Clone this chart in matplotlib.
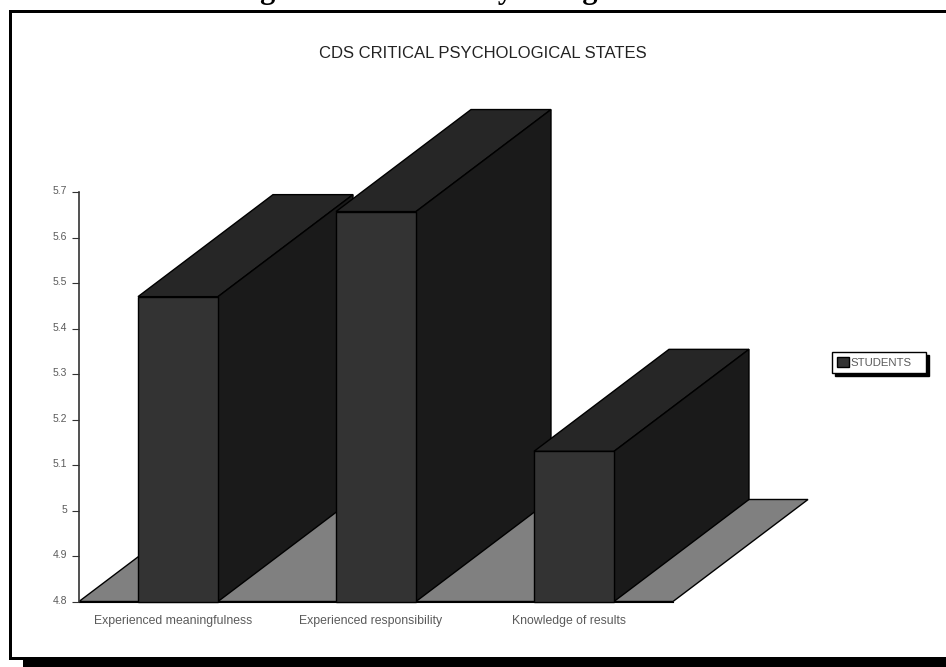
import numpy as np
import matplotlib
from matplotlib import pyplot as plt
from matplotlib.patches import Polygon, Rectangle
from matplotlib.transforms import ScaledTranslation

categories = ['Experienced meaningfulness', 'Experienced responsibility', 'Knowledge of results']
students = [5.47, 5.657, 5.13]
y_ticks = [4.8, 4.9, 5.0, 5.1, 5.2, 5.3, 5.4, 5.5, 5.6, 5.7]
y_tick_labels = ['4.8', '4.9', '5', '5.1', '5.2', '5.3', '5.4', '5.5', '5.6', '5.7']

W, H = 946, 667
FRONT = '#333333'
TOP = '#262626'
SIDE = '#1a1a1a'
FLOOR = '#808080'
TEXT = '#5a5a5a'

# oblique projection of the depth axis, in data units
depth_x = 135 / 198
depth_y = 0.2242
bar_width = 80 / 198

plt.rcParams['font.family'] = ['Liberation Sans', 'DejaVu Sans']


def fig_rect(x0, y0, x1, y1, color='black'):
    # rectangle given in pixels from the top left corner
    fig.add_artist(Rectangle((x0 / W, 1 - y1 / H), (x1 - x0) / W, (y1 - y0) / H,
                             transform=fig.transFigure, color=color, lw=0))


def face(points, color):
    ax.add_patch(Polygon(points, closed=True, facecolor=color, edgecolor='black',
                         lw=1.0, clip_on=False, joinstyle='miter'))


fig = plt.figure(figsize=(W / 100, H / 100), dpi=100)
ax = fig.add_axes([79 / W, 1 - 601.5 / H, 594 / W, 409.5 / H])
ax.set_xlim(0, len(categories))
ax.set_ylim(y_ticks[0], y_ticks[-1])
ax.patch.set_visible(False)

# floor plane
base = y_ticks[0]
n = len(categories)
face([(0, base), (n, base), (n + depth_x, base + depth_y), (depth_x, base + depth_y)], FLOOR)

x_pos = np.arange(n) + 0.5
for x, v in zip(x_pos, students):
    l = x - bar_width / 2
    r = x + bar_width / 2
    face([(l, v), (r, v), (r + depth_x, v + depth_y), (l + depth_x, v + depth_y)], TOP)
    face([(r, base), (r + depth_x, base + depth_y), (r + depth_x, v + depth_y), (r, v)], SIDE)

bars = ax.bar(x_pos, np.array(students) - base, bar_width, bottom=base, color=FRONT,
              edgecolor='black', lw=1.0, clip_on=False, label='STUDENTS', zorder=3)

for s in ['top', 'right']:
    ax.spines[s].set_visible(False)
ax.spines['bottom'].set_color('black')
ax.spines['left'].set_color('#333333')
ax.spines['left'].set_linewidth(1.2)
ax.set_axisbelow(False)

ax.set_yticks(y_ticks)
ax.set_yticklabels(y_tick_labels, fontsize=7.5, color=TEXT, va='center')
ax.tick_params(axis='y', length=5, width=0.8, color='#333333', pad=3.5)
# tick labels sit a little above their ticks
for lab in ax.get_yticklabels():
    lab.set_transform(lab.get_transform() + ScaledTranslation(0, 0.5 / 72, fig.dpi_scale_trans))

ax.set_xticks(x_pos - 5 / 198)
ax.set_xticklabels(categories, fontsize=8.8, color=TEXT)
ax.tick_params(axis='x', length=0, pad=9.5)

fig.text(483 / W, 1 - 53.5 / H, 'CDS CRITICAL PSYCHOLOGICAL STATES', fontsize=12,
         color='#222222', ha='center', va='center')

leg = ax.legend(handles=[bars], loc='upper left',
                bbox_to_anchor=(832 / W, 1 - 372 / H, 94 / W, 20 / H), mode='expand',
                bbox_transform=fig.transFigure, fontsize=8.2, fancybox=False, framealpha=1,
                edgecolor='black', borderpad=0.45, handlelength=1.05, handleheight=0.9,
                handletextpad=0.15, labelcolor=TEXT, borderaxespad=0,
                shadow={'color': 'black', 'alpha': 1})
leg.get_frame().set_linewidth(1.0)

# page heading running off the top edge, and the frame round the chart
fig.text(481 / W, 1 + 1.5 / H, 'Figure 8: Critical Psychological States', family='Liberation Serif',
         fontweight='bold', fontsize=22, color='black', ha='center', va='baseline')
fig_rect(9, 10, 946, 13)
fig_rect(9, 10, 12, 660)
fig_rect(9, 657, 23, 660)
fig_rect(23, 657, 946, 667)

plt.savefig('out.png', dpi=100)
